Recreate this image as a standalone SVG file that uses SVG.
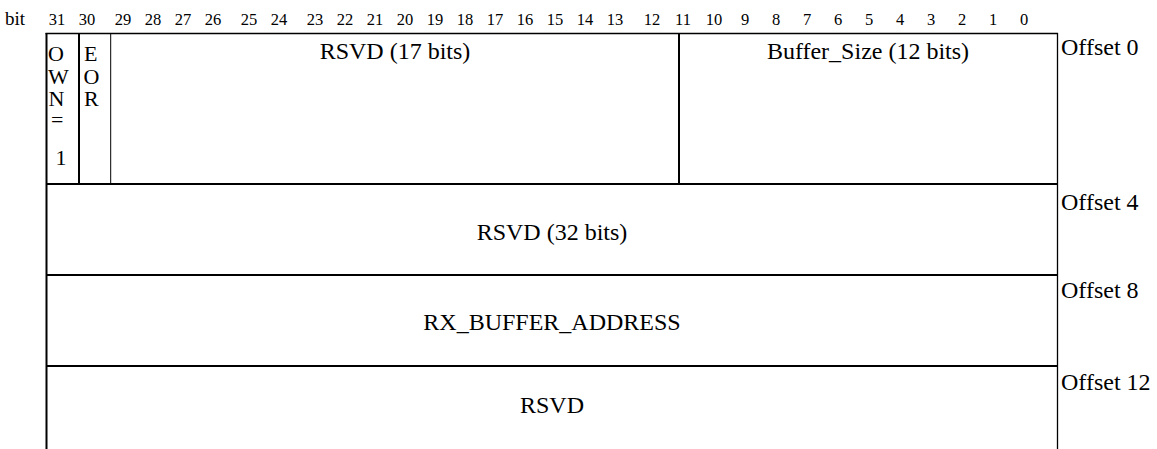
<svg xmlns="http://www.w3.org/2000/svg" width="1157" height="449" viewBox="0 0 1157 449" font-family="'Liberation Serif', 'DejaVu Serif', serif">
<style>
  text { font-family: 'Liberation Serif', 'Times New Roman', serif; fill: #000; }
  .bit { font-size: 16.5px; text-anchor: middle; }
  .lbl { font-size: 24px; text-anchor: middle; }
  .stk { font-size: 22px; }
  .off { font-size: 24px; }
  .thick { stroke: #000; stroke-width: 2; fill: none; }
  .thin { stroke: #000; stroke-width: 1; fill: none; }
</style>
<rect width="1157" height="449" fill="#fff"/>
<g id="bit-header">
  <text x="5" y="25" style="font-size:19px">bit</text>
  <text class="bit" x="57" y="25">31</text>
  <text class="bit" x="87" y="25">30</text>
  <text class="bit" x="123" y="25">29</text>
  <text class="bit" x="153" y="25">28</text>
  <text class="bit" x="183" y="25">27</text>
  <text class="bit" x="213" y="25">26</text>
  <text class="bit" x="249" y="25">25</text>
  <text class="bit" x="279" y="25">24</text>
  <text class="bit" x="315" y="25">23</text>
  <text class="bit" x="345" y="25">22</text>
  <text class="bit" x="375" y="25">21</text>
  <text class="bit" x="405" y="25">20</text>
  <text class="bit" x="435" y="25">19</text>
  <text class="bit" x="465" y="25">18</text>
  <text class="bit" x="495" y="25">17</text>
  <text class="bit" x="525" y="25">16</text>
  <text class="bit" x="555" y="25">15</text>
  <text class="bit" x="585" y="25">14</text>
  <text class="bit" x="615" y="25">13</text>
  <text class="bit" x="652" y="25">12</text>
  <text class="bit" x="683" y="25">11</text>
  <text class="bit" x="714" y="25">10</text>
  <text class="bit" x="745" y="25">9</text>
  <text class="bit" x="776" y="25">8</text>
  <text class="bit" x="807" y="25">7</text>
  <text class="bit" x="838" y="25">6</text>
  <text class="bit" x="869" y="25">5</text>
  <text class="bit" x="900" y="25">4</text>
  <text class="bit" x="931" y="25">3</text>
  <text class="bit" x="962" y="25">2</text>
  <text class="bit" x="993" y="25">1</text>
  <text class="bit" x="1024" y="25">0</text>
</g>
<g id="connectors">
  <line class="thick" x1="45.5" y1="33.5" x2="1058" y2="33.5" style="stroke-width:1.5"/>
  <line class="thick" x1="46.5" y1="33" x2="46.5" y2="449"/>
  <line class="thin" x1="1057.5" y1="33" x2="1057.5" y2="449" style="stroke-width:1.3"/>
  <line class="thick" x1="79" y1="34" x2="79" y2="184"/>
  <line class="thin" x1="110.7" y1="34" x2="110.7" y2="184"/>
  <line class="thick" x1="679" y1="34" x2="679" y2="184"/>
  <line class="thick" x1="46.5" y1="184" x2="1057.5" y2="184"/>
  <line class="thick" x1="46.5" y1="275" x2="1057.5" y2="275"/>
  <line class="thick" x1="46.5" y1="366" x2="1057.5" y2="366"/>
</g>
<g id="own">
  <text class="stk" x="48" y="61">O</text>
  <text class="stk" x="48" y="83.5">W</text>
  <text class="stk" x="48.5" y="106">N</text>
  <text class="stk" x="51" y="127">=</text>
  <text class="stk" x="55.5" y="165">1</text>
</g>
<g id="eor">
  <text class="stk" x="84" y="61">E</text>
  <text class="stk" x="83.5" y="83.5">O</text>
  <text class="stk" x="84" y="106">R</text>
</g>
<g id="rsvd17">
  <text class="lbl" x="395" y="59">RSVD (17 bits)</text>
</g>
<g id="buffer-size">
  <text class="lbl" x="868" y="59">Buffer_Size (12 bits)</text>
</g>
<g id="rsvd32">
  <text class="lbl" x="552" y="240">RSVD (32 bits)</text>
</g>
<g id="rx-buffer-address">
  <text class="lbl" x="552" y="330">RX_BUFFER_ADDRESS</text>
</g>
<g id="rsvd-last">
  <text class="lbl" x="552" y="413">RSVD</text>
</g>
<g id="offsets">
  <text class="off" x="1061" y="55">Offset 0</text>
  <text class="off" x="1061" y="210">Offset 4</text>
  <text class="off" x="1061" y="298">Offset 8</text>
  <text class="off" x="1061" y="390">Offset 12</text>
</g>
</svg>
